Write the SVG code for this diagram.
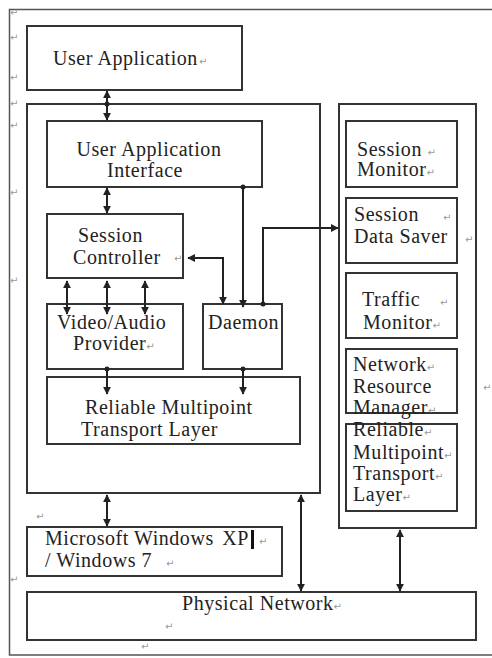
<svg xmlns="http://www.w3.org/2000/svg" width="492" height="658" viewBox="0 0 492 658">
<style>
.box{fill:#fff;stroke:#333;stroke-width:2}
.frame{fill:none;stroke:#555;stroke-width:1.5}
.t{font-family:"Liberation Serif","Times New Roman",serif;font-size:20px;fill:#222;letter-spacing:0.55px}
.pm{font-family:"DejaVu Sans",sans-serif;font-size:10px;fill:#999;letter-spacing:0}
.c{fill:none;stroke:#222;stroke-width:2}
</style>
<defs>
<marker id="ah" viewBox="0 0 10 10" refX="9" refY="5" markerWidth="4" markerHeight="4" orient="auto-start-reverse"><path d="M0,0 L10,5 L0,10 z" fill="#222"/></marker>
</defs>
<rect width="492" height="658" fill="#fff"/>
<path class="frame" d="M492,9.5 H9.5 V655 H492"/>

<g id="user-app"><rect class="box" x="27" y="26" width="215" height="64"/><text class="t" x="53" y="65">User Application<tspan class="pm" dx="1">↵</tspan></text></g>
<g id="client-container"><rect class="box" x="27" y="104" width="293" height="389"/></g>
<g id="uai"><rect class="box" x="47" y="121" width="215" height="66"/><text class="t" x="149" y="156" text-anchor="middle">User Application</text><text class="t" x="145" y="177" text-anchor="middle">Interface</text></g>
<g id="session-controller"><rect class="box" x="47" y="214" width="136" height="64"/><text class="t" x="78" y="242">Session</text><text class="t" x="73" y="264">Controller</text><text class="pm" x="174" y="262">↵</text></g>
<g id="video-audio"><rect class="box" x="47" y="304" width="136" height="65"/><text class="t" x="57" y="329">Video/Audio</text><text class="t" x="73" y="350">Provider<tspan class="pm">↵</tspan></text></g>
<g id="daemon"><rect class="box" x="203" y="304" width="79" height="65"/><text class="t" x="208" y="329">Daemon</text></g>
<g id="rmtl"><rect class="box" x="47" y="377" width="253" height="67"/><text class="t" x="85" y="414">Reliable Multipoint</text><text class="t" x="81" y="436">Transport Layer</text></g>

<g id="server-container"><rect class="box" x="339" y="104" width="137" height="424"/></g>
<g id="session-monitor"><rect class="box" x="346" y="121" width="111" height="66"/><text class="t" x="357" y="156">Session <tspan class="pm">↵</tspan></text><text class="t" x="357" y="176">Monitor<tspan class="pm">↵</tspan></text></g>
<g id="session-data-saver"><rect class="box" x="346" y="198" width="111" height="65"/><text class="t" x="354" y="221">Session</text><text class="pm" x="443" y="221">↵</text><text class="t" x="354" y="243">Data Saver</text><text class="pm" x="465" y="243">↵</text></g>
<g id="traffic-monitor"><rect class="box" x="346" y="273" width="111" height="65"/><text class="t" x="362" y="306">Traffic</text><text class="pm" x="440" y="306">↵</text><text class="t" x="363" y="329">Monitor<tspan class="pm">↵</tspan></text></g>
<g id="network-resource-manager"><rect class="box" x="346" y="349" width="111" height="64"/><text class="t" x="353" y="371">Network<tspan class="pm">↵</tspan></text><text class="t" x="353" y="393">Resource</text><text class="t" x="353" y="414">Manager<tspan class="pm">↵</tspan></text></g>
<g id="server-rmtl"><rect class="box" x="346" y="424" width="111" height="87"/><text class="t" x="353" y="436">Reliable<tspan class="pm">↵</tspan></text><text class="t" x="353" y="459">Multipoint<tspan class="pm">↵</tspan></text><text class="t" x="353" y="480">Transport<tspan class="pm">↵</tspan></text><text class="t" x="353" y="501">Layer<tspan class="pm">↵</tspan></text></g>

<g id="windows"><rect class="box" x="27" y="527" width="255" height="49"/><text class="t" x="45" y="545">Microsoft Windows <tspan dx="3">XP</tspan></text><rect x="251" y="530" width="3" height="19" fill="#111"/><text class="pm" x="259" y="545">↵</text><text class="t" x="45" y="567">/ Windows 7</text><text class="pm" x="166" y="567">↵</text></g>
<g id="physical-network"><rect class="box" x="27" y="592" width="449" height="48"/><text class="t" x="182" y="610">Physical Network<tspan class="pm">↵</tspan></text><text class="pm" x="165" y="630">↵</text></g>

<g id="connectors">
<line class="c" x1="107" y1="91" x2="107" y2="120" marker-start="url(#ah)" marker-end="url(#ah)"/>
<line class="c" x1="107" y1="188" x2="107" y2="213" marker-start="url(#ah)" marker-end="url(#ah)"/>
<line class="c" x1="67" y1="281" x2="67" y2="314" marker-start="url(#ah)" marker-end="url(#ah)"/>
<line class="c" x1="107" y1="281" x2="107" y2="314" marker-start="url(#ah)" marker-end="url(#ah)"/>
<line class="c" x1="145" y1="281" x2="145" y2="314" marker-start="url(#ah)" marker-end="url(#ah)"/>
<line class="c" x1="107" y1="367" x2="107" y2="394" marker-end="url(#ah)"/>
<line class="c" x1="243" y1="367" x2="243" y2="394" marker-end="url(#ah)"/>
<line class="c" x1="243" y1="188" x2="243" y2="307" marker-end="url(#ah)"/>
<polyline class="c" points="188,258 223,258 223,304" marker-start="url(#ah)" marker-end="url(#ah)"/>
<polyline class="c" points="263,304 263,228 338,228" marker-end="url(#ah)"/>
<line class="c" x1="107" y1="495" x2="107" y2="526" marker-start="url(#ah)" marker-end="url(#ah)"/>
<line class="c" x1="301" y1="495" x2="301" y2="591" marker-start="url(#ah)" marker-end="url(#ah)"/>
<line class="c" x1="400" y1="530" x2="400" y2="591" marker-start="url(#ah)" marker-end="url(#ah)"/>
<circle cx="107" cy="104" r="2.5" fill="#222"/>
<circle cx="243" cy="187" r="2.5" fill="#222"/>
<circle cx="263" cy="304" r="2.5" fill="#222"/>
<circle cx="107" cy="369" r="2.5" fill="#222"/>
<circle cx="243" cy="369" r="2.5" fill="#222"/>
</g>

<g id="para-marks" class="pm">
<text x="10" y="16">↵</text><text x="10" y="41">↵</text><text x="10" y="81">↵</text><text x="10" y="107">↵</text><text x="10" y="129">↵</text><text x="10" y="196">↵</text><text x="10" y="284">↵</text><text x="10" y="583">↵</text><text x="36" y="520">↵</text><text x="141" y="650">↵</text><text x="483" y="391">↵</text>
</g>
</svg>
